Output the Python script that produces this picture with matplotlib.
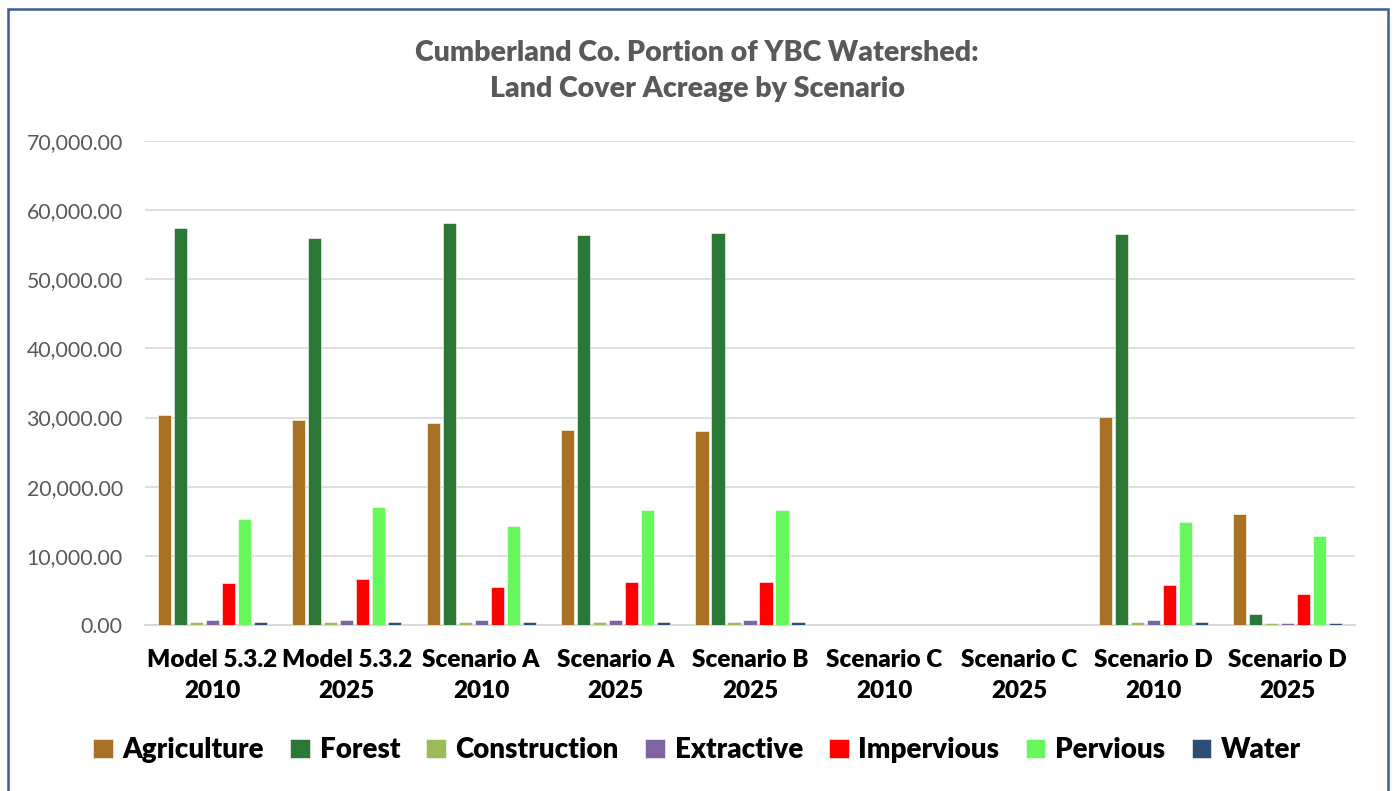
import matplotlib
matplotlib.use("Agg")
import matplotlib.pyplot as plt
import numpy as np
from matplotlib.patches import Rectangle
from matplotlib.ticker import FuncFormatter

categories = ["Model 5.3.2\n2010", "Model 5.3.2\n2025", "Scenario A\n2010", "Scenario A\n2025",
              "Scenario B\n2025", "Scenario C\n2010", "Scenario C\n2025", "Scenario D\n2010",
              "Scenario D\n2025"]
series_names = ["Agriculture", "Forest", "Construction", "Extractive", "Impervious", "Pervious", "Water"]
agriculture = [30300, 29600, 29200, 28200, 28050, 0, 0, 30100, 16050]
forest = [57400, 55950, 58150, 56400, 56650, 0, 0, 56600, 1600]
construction = [450, 380, 400, 380, 380, 0, 0, 450, 250]
extractive = [720, 720, 720, 720, 720, 0, 0, 720, 250]
impervious = [6050, 6650, 5550, 6150, 6150, 0, 0, 5850, 4500]
pervious = [15400, 17100, 14350, 16700, 16650, 0, 0, 14900, 12800]
water = [480, 480, 450, 450, 450, 0, 0, 480, 250]
colors = ["#A87124", "#2B7735", "#9BBB59", "#8064A2", "#FF0000", "#66F75A", "#2C4D75"]

series = [agriculture, forest, construction, extractive, impervious, pervious, water]

plt.rcParams["font.family"] = ["Lato", "DejaVu Sans"]

fig = plt.figure(figsize=(13.94, 7.91), dpi=100)
ax = fig.add_axes([145/1394, 1 - 625/791, (1355-145)/1394, (625-141)/791])

x = np.arange(len(categories))
n = len(series)
slot = 0.119
bw = slot * 0.82
for i, (vals, c, name) in enumerate(zip(series, colors, series_names)):
    ax.bar(x + (i - (n - 1) / 2) * slot, vals, width=bw, color=c, label=name,
           edgecolor="white", linewidth=0.4, zorder=3)

ax.set_xlim(-0.5, len(categories) - 0.5)
ax.set_ylim(0, 70000)
ax.set_yticks(np.arange(0, 70001, 10000))
ax.yaxis.set_major_formatter(FuncFormatter(lambda v, p: f"{v:,.2f}"))
ax.grid(axis="y", color="#D9D9D9", linewidth=1.2, zorder=0)
for s in ["top", "right", "left"]:
    ax.spines[s].set_visible(False)
ax.spines["bottom"].set_color("#D9D9D9")
ax.spines["bottom"].set_linewidth(1.5)
ax.tick_params(axis="both", length=0)
ax.tick_params(axis="y", labelsize=15.3, labelcolor="#595959", pad=16)
ax.set_xticks(x)
ax.set_xticklabels(categories, fontsize=17.5, fontweight="heavy", color="black", linespacing=1.5)
ax.tick_params(axis="x", pad=17)

fig.text(0.5, 1 - 71/791, "Cumberland Co. Portion of YBC Watershed:\nLand Cover Acreage by Scenario",
         ha="center", va="center", fontsize=20.5, fontweight="heavy", color="#595959",
         linespacing=1.45)

leg = fig.legend(loc="center", bbox_to_anchor=(0.5, 1 - 750/791), ncol=7, frameon=False,
                 prop={"size": 20, "weight": "heavy"}, handlelength=0.7, handleheight=0.7,
                 handletextpad=0.35, columnspacing=0.95)

fig.patches.append(Rectangle((8/1394, -0.05), (1388-8)/1394, 1.05 - 9/791,
                             transform=fig.transFigure, fill=False, edgecolor="#3A5F94",
                             linewidth=1.8))

fig.savefig("out.png", dpi=100)
